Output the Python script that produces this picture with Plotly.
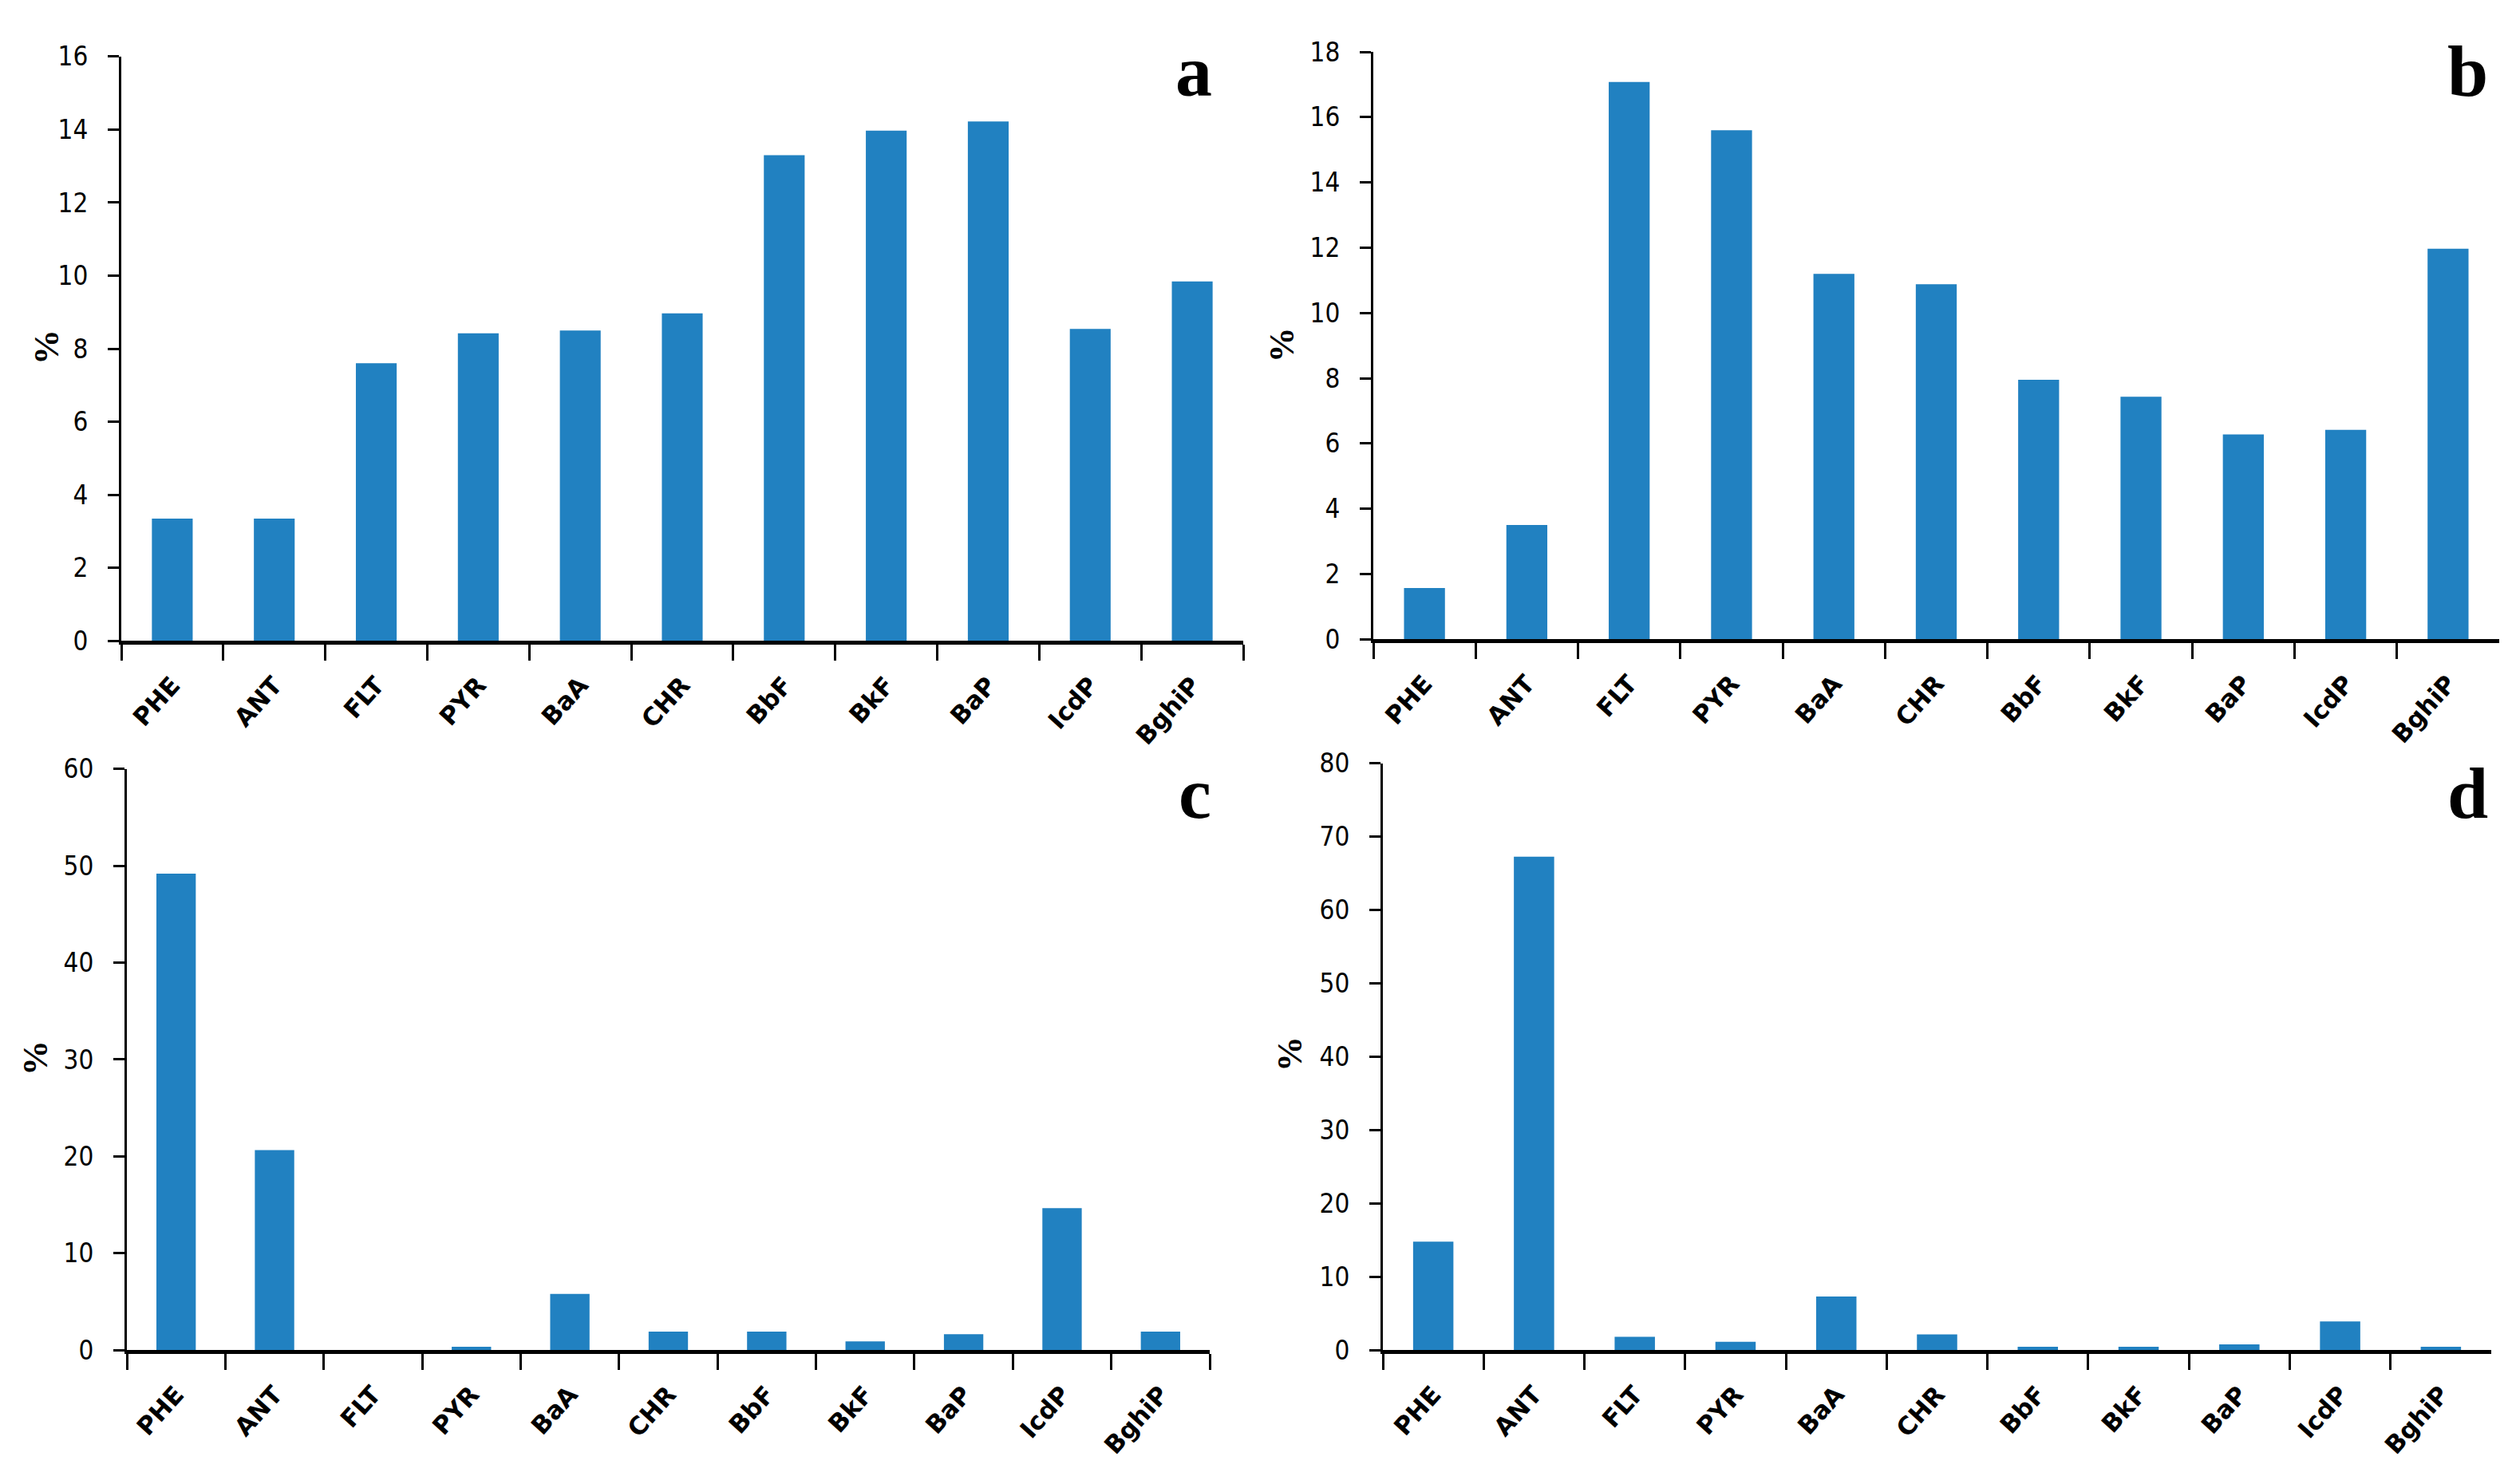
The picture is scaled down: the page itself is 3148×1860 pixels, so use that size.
import plotly.graph_objects as go

categories = ["PHE", "ANT", "FLT", "PYR", "BaA", "CHR", "BbF", "BkF", "BaP", "IcdP", "BghiP"]
values_a = [3.35, 3.35, 7.6, 8.42, 8.5, 8.97, 13.3, 13.97, 14.22, 8.54, 9.84]
values_b = [1.57, 3.5, 17.08, 15.6, 11.2, 10.88, 7.95, 7.43, 6.28, 6.42, 11.97]
values_c = [49.2, 20.65, 0.0, 0.35, 5.8, 1.9, 1.9, 0.9, 1.64, 14.65, 1.9]
values_d = [14.8, 67.3, 1.8, 1.13, 7.3, 2.15, 0.46, 0.46, 0.78, 3.9, 0.46]
panel_labels = ["a", "b", "c", "d"]
y_max = [16, 18, 60, 80]
y_step = [2, 2, 10, 10]

W, H = 3148, 1860
BAR = "#2181c1"

# plot-area boxes in pixels: x0, x1, ytop, ybottom
boxes = [
    (152, 1558, 53, 801),
    (1721, 3132, 47, 799),
    (159, 1516, 965, 1709),
    (1733, 3122, 958, 1709),
]
title_pos = [(58, 425), (1606, 422), (44, 1335), (1616, 1330)]
letter_pos = [(1496, 72), (3092, 72), (1497, 996), (3092, 996)]

fig = go.Figure()
series = [values_a, values_b, values_c, values_d]
for i, vals in enumerate(series):
    sfx = "" if i == 0 else str(i + 1)
    fig.add_trace(go.Bar(x=categories, y=vals, marker=dict(color=BAR, line=dict(width=0)),
                         xaxis="x" + sfx, yaxis="y" + sfx, showlegend=False))
    x0, x1, yt, yb = boxes[i]
    fig.layout["xaxis" + sfx] = dict(
        domain=[x0 / W, x1 / W], anchor="y" + sfx, type="category",
        categoryorder="array", categoryarray=categories,
        range=[-0.5, 10.5], tickson="boundaries", ticks="outside",
        ticklen=20, tickwidth=3, tickcolor="black",
        showline=True, linewidth=5, linecolor="black", showgrid=False,
        tickangle=-48, ticklabelstandoff=20,
        tickfont=dict(family="DejaVu Sans", size=31, color="black", weight="bold"),
    )
    fig.layout["yaxis" + sfx] = dict(
        domain=[1 - yb / H, 1 - yt / H], anchor="x" + sfx,
        range=[0, y_max[i]], dtick=y_step[i], tick0=0,
        ticks="outside", ticklen=14, tickwidth=3, tickcolor="black",
        showline=True, linewidth=3, linecolor="black", showgrid=False, zeroline=False,
        ticklabelstandoff=18,
        tickfont=dict(family="DejaVu Sans Condensed, DejaVu Sans", size=33, color="black"),
    )
    tx, ty = title_pos[i]
    fig.add_annotation(x=tx / W, y=1 - ty / H, xref="paper", yref="paper", text="%",
                       textangle=-90, showarrow=False, xanchor="center", yanchor="middle",
                       font=dict(family="Liberation Serif", size=44, color="black", weight="bold"))
    lx, ly = letter_pos[i]
    fig.add_annotation(x=lx / W, y=1 - ly / H, xref="paper", yref="paper", text=panel_labels[i],
                       showarrow=False, xanchor="center", yanchor="middle",
                       font=dict(family="Liberation Serif", size=92, color="black", weight="bold"))

fig.update_layout(width=W, height=H, margin=dict(l=0, r=0, t=0, b=0),
                  paper_bgcolor="white", plot_bgcolor="white", bargap=0.6)
fig.write_html("out.html", config={"displayModeBar": False},
               post_script="document.body.style.margin='0';document.body.style.overflow='hidden';")
